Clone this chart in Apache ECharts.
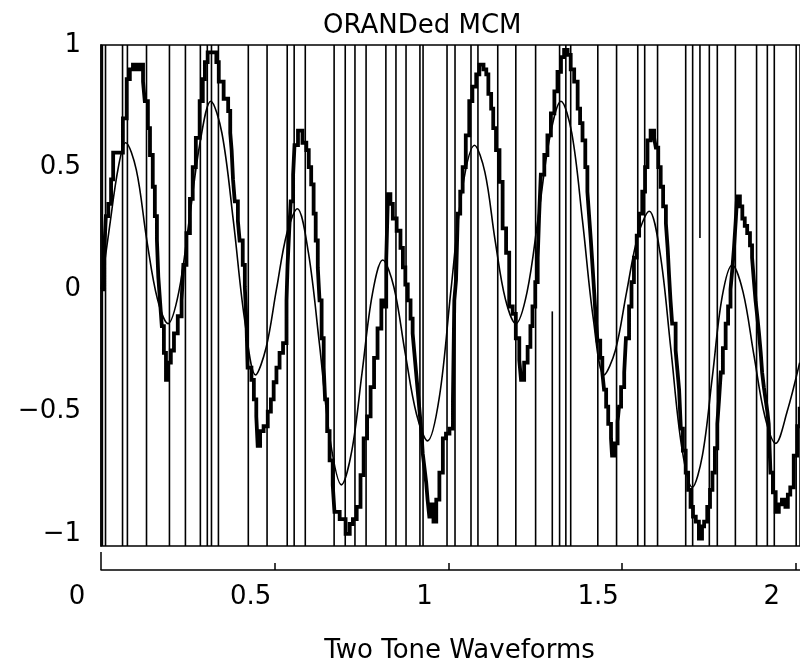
<!DOCTYPE html>
<html>
<head>
<meta charset="utf-8">
<script src="https://cdn.jsdelivr.net/npm/echarts@6/dist/echarts.min.js"></script>
<style>html,body{margin:0;padding:0;background:#fff;}#c{width:800px;height:669px;}</style>
</head>
<body>
<div id="c"></div>
<script>
// Title / axis texts
const titleText = 'ORANDed MCM';
const xName = 'Two Tone Waveforms';
const yTicks = [-1, -0.5, 0, 0.5, 1];

// Full-height vertical lines (x positions)
const vLineX = [0.004, 0.013, 0.062, 0.076, 0.131, 0.197, 0.243, 0.286, 0.306, 0.318, 0.338, 0.424, 0.478,
  0.536, 0.556, 0.588, 0.671, 0.703, 0.731, 0.763, 0.820, 0.849, 0.878, 0.918, 0.927, 0.996, 1.019, 1.065,
  1.085, 1.142, 1.194, 1.251, 1.320, 1.338, 1.352, 1.430, 1.484, 1.545, 1.565, 1.602, 1.683, 1.703, 1.751,
  1.774, 1.826, 1.887, 1.918, 1.938, 2.001];
// Partial vertical lines
const pLineX = [1.299, 1.724];
const pLineFrom = [-1.05, 0.21];
const pLineTo = [-0.09, 1.0];

// Thin two-tone waveform
const thinX = [0.0, 0.025, 0.05, 0.071, 0.1015, 0.132, 0.1625, 0.193, 0.224, 0.2545, 0.285, 0.316, 0.348, 0.381,
  0.413, 0.445, 0.475, 0.505, 0.535, 0.565, 0.597, 0.6285, 0.660, 0.692, 0.722, 0.7515, 0.781, 0.811, 0.843,
  0.8755, 0.908, 0.940, 0.974, 1.0075, 1.041, 1.075, 1.105, 1.1345, 1.164, 1.194, 1.2265, 1.259, 1.2915, 1.324,
  1.355, 1.386, 1.417, 1.448, 1.4805, 1.513, 1.5455, 1.578, 1.609, 1.640, 1.671, 1.702, 1.731, 1.7595, 1.788,
  1.817, 1.848, 1.8795, 1.911, 1.942, 1.975, 2.011];
const thinY = [0.0, 0.26, 0.50, 0.60, 0.49, 0.20, -0.04, -0.14, -0.01, 0.29, 0.60, 0.77, 0.64, 0.28,
  -0.12, -0.35, -0.24, 0.0, 0.23, 0.33, 0.15, -0.22, -0.62, -0.80, -0.66, -0.34, -0.02, 0.12, 0.01,
  -0.26, -0.51, -0.62, -0.44, 0.0, 0.42, 0.59, 0.48, 0.20, -0.04, -0.14, -0.01, 0.30, 0.62, 0.77,
  0.64, 0.28, -0.12, -0.35, -0.25, -0.01, 0.22, 0.32, 0.15, -0.24, -0.64, -0.81, -0.68, -0.36, -0.03,
  0.10, -0.01, -0.27, -0.52, -0.63, -0.50, -0.30];

// Thick staircase (MCM) waveform
const thickX = [0.0, 0.009, 0.014, 0.021, 0.029, 0.035, 0.052, 0.063, 0.074, 0.083, 0.092, 0.101, 0.112, 0.121,
  0.126, 0.135, 0.141, 0.149, 0.155, 0.161, 0.165, 0.170, 0.175, 0.181, 0.187, 0.193, 0.201, 0.210, 0.221,
  0.232, 0.237, 0.246, 0.256, 0.264, 0.273, 0.284, 0.293, 0.299, 0.307, 0.332, 0.339, 0.353, 0.366, 0.372,
  0.376, 0.380, 0.385, 0.394, 0.399, 0.408, 0.414, 0.419, 0.422, 0.433, 0.440, 0.447, 0.451, 0.458, 0.468,
  0.480, 0.489, 0.497, 0.505, 0.514, 0.524, 0.534, 0.537, 0.542, 0.546, 0.553, 0.557, 0.567, 0.580, 0.591,
  0.598, 0.605, 0.612, 0.618, 0.624, 0.629, 0.635, 0.641, 0.645, 0.651, 0.658, 0.667, 0.672, 0.687, 0.704,
  0.716, 0.725, 0.736, 0.747, 0.756, 0.766, 0.776, 0.786, 0.796, 0.807, 0.813, 0.821, 0.826, 0.833, 0.840,
  0.851, 0.862, 0.869, 0.876, 0.883, 0.891, 0.897, 0.902, 0.907, 0.912, 0.917, 0.922, 0.926, 0.931, 0.936,
  0.940, 0.945, 0.951, 0.957, 0.965, 0.974, 0.984, 0.993, 1.003, 1.013, 1.017, 1.022, 1.027, 1.034, 1.041,
  1.050, 1.060, 1.069, 1.080, 1.089, 1.101, 1.109, 1.115, 1.123, 1.129, 1.137, 1.147, 1.156, 1.166, 1.175,
  1.185, 1.194, 1.204, 1.209, 1.218, 1.228, 1.236, 1.242, 1.250, 1.257, 1.261, 1.266, 1.276, 1.285, 1.295,
  1.305, 1.314, 1.324, 1.333, 1.343, 1.352, 1.362, 1.372, 1.379, 1.386, 1.394, 1.400, 1.405, 1.410, 1.415,
  1.420, 1.424, 1.429, 1.437, 1.443, 1.448, 1.454, 1.460, 1.468, 1.471, 1.477, 1.487, 1.491, 1.497, 1.506,
  1.511, 1.520, 1.527, 1.534, 1.542, 1.549, 1.558, 1.566, 1.573, 1.582, 1.592, 1.597, 1.604, 1.611, 1.618,
  1.626, 1.631, 1.635, 1.639, 1.644, 1.654, 1.659, 1.664, 1.669, 1.675, 1.683, 1.690, 1.697, 1.704, 1.712,
  1.721, 1.730, 1.736, 1.745, 1.753, 1.760, 1.767, 1.774, 1.779, 1.784, 1.790, 1.798, 1.805, 1.812, 1.817,
  1.822, 1.827, 1.831, 1.839, 1.846, 1.853, 1.860, 1.868, 1.874, 1.879, 1.884, 1.889, 1.894, 1.899, 1.903,
  1.908, 1.913, 1.918, 1.922, 1.927, 1.934, 1.942, 1.951, 1.960, 1.970, 1.977, 1.984, 1.994, 2.004, 2.011];
const thickY = [0.0, 0.15, 0.30, 0.35, 0.45, 0.56, 0.56, 0.70, 0.86, 0.90, 0.92, 0.90, 0.92, 0.85,
  0.77, 0.66, 0.55, 0.42, 0.30, 0.20, 0.05, -0.05, -0.15, -0.26, -0.37, -0.30, -0.25, -0.18, -0.11,
  -0.045, 0.10, 0.23, 0.37, 0.50, 0.62, 0.77, 0.86, 0.93, 0.97, 0.93, 0.85, 0.78, 0.73, 0.64,
  0.57, 0.45, 0.36, 0.28, 0.20, 0.10, 0.01, -0.15, -0.32, -0.37, -0.45, -0.52, -0.64, -0.58, -0.56,
  -0.50, -0.45, -0.38, -0.32, -0.26, -0.22, -0.045, 0.10, 0.25, 0.36, 0.47, 0.59, 0.65, 0.60, 0.57,
  0.50, 0.43, 0.31, 0.20, 0.09, -0.045, -0.20, -0.32, -0.45, -0.58, -0.70, -0.80, -0.91, -0.94, -1.00,
  -0.96, -0.94, -0.89, -0.76, -0.61, -0.52, -0.40, -0.28, -0.16, -0.045, -0.07, 0.12, 0.39, 0.35, 0.29,
  0.24, 0.17, 0.09, 0.02, -0.045, -0.12, -0.18, -0.26, -0.34, -0.42, -0.50, -0.58, -0.67, -0.73, -0.79,
  -0.86, -0.93, -0.88, -0.95, -0.86, -0.75, -0.61, -0.59, -0.57, -0.45, -0.045, 0.04, 0.31, 0.40, 0.50,
  0.63, 0.77, 0.83, 0.88, 0.92, 0.90, 0.88, 0.80, 0.74, 0.66, 0.57, 0.44, 0.25, 0.15, -0.07,
  -0.10, -0.20, -0.29, -0.37, -0.30, -0.235, -0.15, -0.07, 0.03, 0.13, 0.30, 0.47, 0.55, 0.63, 0.72,
  0.81, 0.89, 0.95, 0.98, 0.96, 0.90, 0.85, 0.74, 0.68, 0.61, 0.50, 0.40, 0.30, 0.20, 0.09,
  -0.02, -0.12, -0.21, -0.28, -0.34, -0.41, -0.48, -0.55, -0.61, -0.68, -0.63, -0.54, -0.48, -0.40, -0.34,
  -0.20, -0.07, 0.03, 0.13, 0.22, 0.31, 0.40, 0.50, 0.61, 0.65, 0.62, 0.58, 0.50, 0.42, 0.34,
  0.27, 0.17, 0.06, -0.04, -0.14, -0.25, -0.33, -0.41, -0.57, -0.66, -0.75, -0.82, -0.89, -0.93, -0.95,
  -1.02, -0.97, -0.95, -0.89, -0.82, -0.75, -0.65, -0.55, -0.45, -0.34, -0.24, -0.14, -0.07, 0.00, 0.08,
  0.17, 0.28, 0.38, 0.34, 0.29, 0.26, 0.23, 0.18, 0.13, 0.04, -0.045, -0.11, -0.18, -0.26, -0.34,
  -0.40, -0.45, -0.50, -0.55, -0.75, -0.83, -0.91, -0.88, -0.86, -0.89, -0.84, -0.81, -0.68, -0.56, -0.48];

const Y_MIN = -1.05, Y_MAX = 1.0;
const FONT = 'DejaVu Sans';

const vData = vLineX.map(x => [x, Y_MIN, Y_MAX]).concat(pLineX.map((x, i) => [x, pLineFrom[i], pLineTo[i]]));
const thinData = thinX.map((x, i) => [x, thinY[i]]);
const thickData = thickX.map((x, i) => [x, thickY[i]]);

const chart = echarts.init(document.getElementById('c'), null, {renderer: 'canvas'});
chart.setOption({
  animation: false,
  backgroundColor: '#fff',
  title: {
    text: titleText, left: 318, top: 8,
    textStyle: {fontFamily: FONT, fontSize: 26, fontWeight: 'normal', color: '#000'}
  },
  grid: {left: 101, top: 45, width: 700, height: 502, show: true, borderColor: '#000', borderWidth: 1.5},
  xAxis: [{
    type: 'value', min: 0, max: 2.012, interval: 0.5, position: 'bottom', offset: 24,
    name: xName, nameLocation: 'middle', nameGap: 68,
    nameTextStyle: {fontFamily: FONT, fontSize: 26, color: '#000', padding: [0, 0, 0, 18]},
    axisLine: {show: true, onZero: false, lineStyle: {color: '#000', width: 1.5}},
    axisTick: {show: true, inside: true, length: 7, lineStyle: {color: '#000', width: 1.5}},
    axisLabel: {fontFamily: FONT, fontSize: 26, color: '#000', margin: 14, padding: [0, 48, 0, 0]},
    splitLine: {show: false}
  }, {
    type: 'value', min: 0, max: 2.012, position: 'bottom', offset: 24,
    axisLine: {show: false, onZero: false},
    axisTick: {show: true, inside: true, length: 18, customValues: [0], lineStyle: {color: '#000', width: 1.5}},
    axisLabel: {show: false},
    splitLine: {show: false}
  }],
  yAxis: {
    type: 'value', min: Y_MIN, max: Y_MAX,
    axisLine: {show: true, onZero: false, lineStyle: {color: '#000', width: 1.5}},
    axisTick: {show: false},
    axisLabel: {
      customValues: yTicks, fontFamily: FONT, fontSize: 26, color: '#000', margin: 20,
      formatter: v => String(v).replace('-', '\u2212')
    },
    splitLine: {show: false}
  },
  series: [{
    type: 'custom', xAxisIndex: 0, clip: true,
    encode: {x: 0, y: [1, 2]},
    data: vData,
    renderItem: (params, api) => {
      const p0 = api.coord([api.value(0), api.value(1)]);
      const p1 = api.coord([api.value(0), api.value(2)]);
      return {type: 'line', shape: {x1: p0[0], y1: p0[1], x2: p1[0], y2: p1[1]},
        style: {stroke: '#000', lineWidth: 1.6}};
    }
  }, {
    type: 'line', xAxisIndex: 0, data: thinData, smooth: 0.35, showSymbol: false,
    lineStyle: {color: '#000', width: 1.6}, clip: true
  }, {
    type: 'line', xAxisIndex: 0, data: thickData, step: 'end', showSymbol: false,
    lineStyle: {color: '#000', width: 3.8, join: 'miter'}, clip: true
  }]
});
</script>
</body>
</html>
